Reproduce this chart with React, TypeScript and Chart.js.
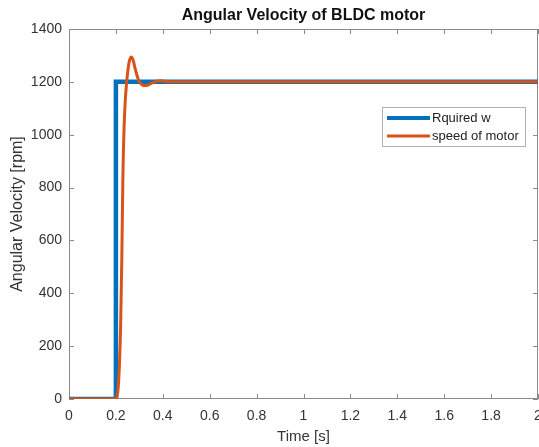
import React, { useEffect, useRef } from 'react';
import { Chart, registerables } from 'chart.js';

Chart.register(...registerables);

// ---- Data ----
const requiredTime = [0, 0.2, 0.2, 2];
const requiredW = [0, 0, 1200, 1200];

const motorTime = [
  0, 0.2, 0.205, 0.21, 0.215, 0.22, 0.225, 0.23, 0.235, 0.24, 0.245, 0.25, 0.255,
  0.26, 0.265, 0.27, 0.275, 0.28, 0.29, 0.3, 0.31, 0.32, 0.33, 0.34, 0.35, 0.36,
  0.37, 0.38, 0.39, 0.4, 0.42, 0.45, 2,
];
const motorSpeed = [
  0, 0, 10, 45, 130, 270, 520, 850, 1030, 1130, 1190, 1235, 1268,
  1287, 1294, 1290, 1277, 1258, 1224, 1200, 1190, 1186, 1186, 1189, 1194, 1198,
  1201, 1203, 1204, 1203, 1201, 1200, 1200,
];

const xTicks = [0, 0.2, 0.4, 0.6, 0.8, 1, 1.2, 1.4, 1.6, 1.8, 2];
const yTicks = [0, 200, 400, 600, 800, 1000, 1200, 1400];

const seriesLabels = ['Rquired w', 'speed of motor'];
const titleText = 'Angular Velocity of BLDC motor';
const xTitle = 'Time [s]';
const yTitle = 'Angular Velocity [rpm]';

// ---- Styles ----
const FONT = '"Liberation Sans", Arial, Helvetica, sans-serif';
const BLUE = '#0072BD';
const ORANGE = '#D95319';
const AXIS = '#8a8a8a';
const TEXT = '#333333';

const frameAndTicks = {
  id: 'frameAndTicks',
  beforeDatasetsDraw(chart: any) {
    const { ctx, chartArea } = chart;
    const { left, right, top, bottom } = chartArea;
    const x = chart.scales.x;
    const y = chart.scales.y;
    ctx.save();
    ctx.strokeStyle = AXIS;
    ctx.lineWidth = 1;
    ctx.strokeRect(left + 0.5, top + 0.5, right - left - 1, bottom - top - 1);
    const len = 5;
    ctx.beginPath();
    xTicks.forEach((v) => {
      const px = Math.round(x.getPixelForValue(v)) + 0.5;
      ctx.moveTo(px, bottom);
      ctx.lineTo(px, bottom - len);
      ctx.moveTo(px, top);
      ctx.lineTo(px, top + len);
    });
    yTicks.forEach((v) => {
      const py = Math.round(y.getPixelForValue(v)) + 0.5;
      ctx.moveTo(left, py);
      ctx.lineTo(left + len, py);
      ctx.moveTo(right, py);
      ctx.lineTo(right - len, py);
    });
    ctx.stroke();
    ctx.restore();
  },
  afterDraw(chart: any) {
    const { ctx, chartArea } = chart;
    ctx.save();
    ctx.font = `bold 16px ${FONT}`;
    ctx.fillStyle = '#111';
    ctx.textAlign = 'center';
    ctx.textBaseline = 'middle';
    ctx.fillText(titleText, (chartArea.left + chartArea.right) / 2, chartArea.top - 13);
    ctx.restore();
  },
};

const boxLegend = {
  id: 'boxLegend',
  afterDraw(chart: any) {
    const { ctx, chartArea } = chart;
    const bx = chartArea.right - 156;
    const by = chartArea.top + 78;
    const bw = 143;
    const bh = 39;
    ctx.save();
    ctx.fillStyle = '#ffffff';
    ctx.fillRect(bx, by, bw, bh);
    ctx.strokeStyle = '#b0b0b0';
    ctx.lineWidth = 1;
    ctx.strokeRect(bx + 0.5, by + 0.5, bw, bh);
    ctx.font = `13px ${FONT}`;
    ctx.textBaseline = 'middle';
    ctx.textAlign = 'left';
    chart.data.datasets.forEach((ds: any, i: number) => {
      const ry = by + 11 + i * 18;
      ctx.strokeStyle = ds.borderColor;
      ctx.lineWidth = i === 0 ? 4 : 3;
      ctx.beginPath();
      ctx.moveTo(bx + 5, ry);
      ctx.lineTo(bx + 48, ry);
      ctx.stroke();
      ctx.fillStyle = '#222';
      ctx.fillText(ds.label, bx + 50, ry);
    });
    ctx.restore();
  },
};

export default function App() {
  const ref = useRef<HTMLCanvasElement>(null);

  useEffect(() => {
    if (!ref.current) return;
    const chart = new Chart(ref.current, {
      type: 'line',
      data: {
        datasets: [
          {
            label: seriesLabels[0],
            data: requiredTime.map((t, i) => ({ x: t, y: requiredW[i] })),
            borderColor: BLUE,
            backgroundColor: BLUE,
            borderWidth: 4.5,
            pointRadius: 0,
            tension: 0,
            order: 1,
          },
          {
            label: seriesLabels[1],
            data: motorTime.map((t, i) => ({ x: t, y: motorSpeed[i] })),
            borderColor: ORANGE,
            backgroundColor: ORANGE,
            borderWidth: 3,
            pointRadius: 0,
            cubicInterpolationMode: 'monotone',
            order: 0,
          },
        ],
      },
      plugins: [frameAndTicks, boxLegend],
      options: {
        animation: false,
        responsive: false,
        maintainAspectRatio: false,
        layout: { padding: { left: 0, right: 1, top: 29, bottom: 0 } },
        plugins: {
          legend: { display: false },
          tooltip: { enabled: false },
          title: { display: false },
        },
        scales: {
          x: {
            type: 'linear',
            min: 0,
            max: 2,
            grid: { display: false, drawTicks: false },
            border: { display: false },
            afterBuildTicks: (s: any) => {
              s.ticks = xTicks.map((v) => ({ value: v }));
            },
            afterFit: (s: any) => {
              s.height = 48;
              s.paddingLeft = 0;
              s.paddingRight = 0;
            },
            ticks: {
              color: TEXT,
              font: { family: FONT, size: 14 },
              padding: 9,
              maxRotation: 0,
              autoSkip: false,
              callback: (v: any) => String(v),
            },
            title: {
              display: true,
              text: xTitle,
              color: TEXT,
              font: { family: FONT, size: 15 },
              padding: { top: 0, bottom: 1 },
            },
          },
          y: {
            type: 'linear',
            min: 0,
            max: 1400,
            grid: { display: false, drawTicks: false },
            border: { display: false },
            afterBuildTicks: (s: any) => {
              s.ticks = yTicks.map((v) => ({ value: v }));
            },
            afterFit: (s: any) => {
              s.width = 69;
              s.paddingTop = 0;
              s.paddingBottom = 0;
            },
            ticks: {
              color: TEXT,
              font: { family: FONT, size: 14 },
              padding: 7,
              autoSkip: false,
              callback: (v: any) => String(v),
            },
            title: {
              display: true,
              text: yTitle,
              color: TEXT,
              font: { family: FONT, size: 16 },
              padding: { top: 8, bottom: 0 },
            },
          },
        },
      },
    } as any);
    return () => chart.destroy();
  }, []);

  return (
    <div style={{ position: 'fixed', left: 0, top: 0, width: 539, height: 447, background: '#fff' }}>
      <canvas ref={ref} width={539} height={447} style={{ width: 539, height: 447 }} />
    </div>
  );
}
